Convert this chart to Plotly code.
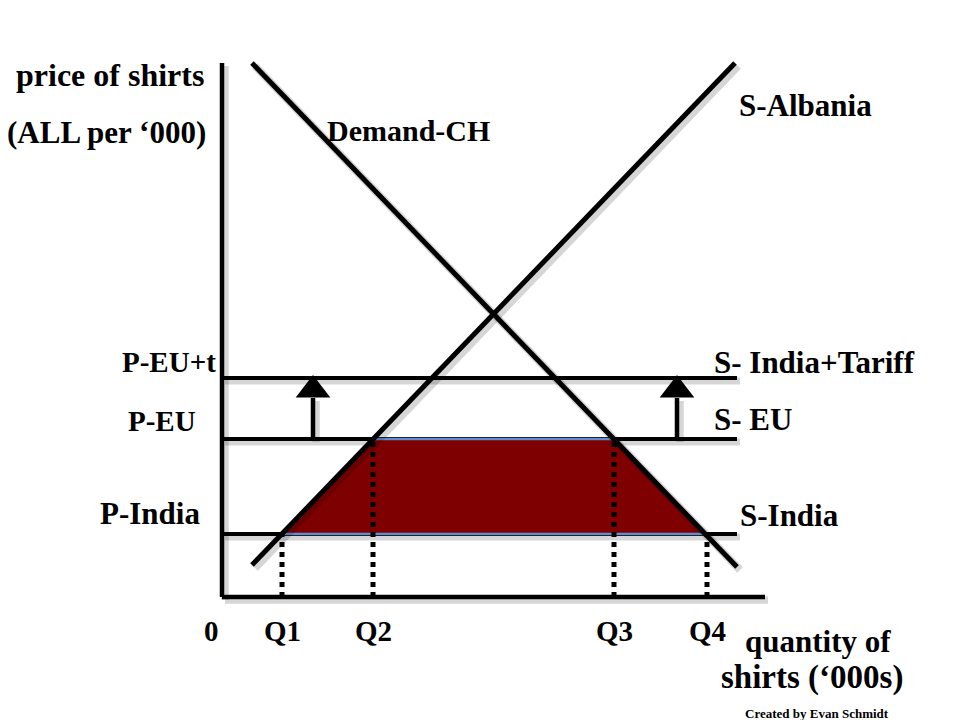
import plotly.graph_objects as go

# ---- data (quantity / price units, origin at the axes corner) ----
q_ticks = [0, 60, 151, 392, 485]
q_labels = ["0", "Q1", "Q2", "Q3", "Q4"]
p_india = 63
p_eu = 158
p_eu_t = 219
p_labels = ["P-India", "P-EU", "P-EU+t"]
demand_q = [30, 515]
demand_p = [534, 30]
supply_q = [30, 513]
supply_p = [32, 534]
h_line_q = [0, 515]
axis_q_max = 543
axis_p_max = 534
arrow_q = [91, 455]
trade_q = [60, 151, 392, 485, 60]
trade_p = [63, 158, 158, 63, 63]

FONT = "Liberation Serif"
fig = go.Figure()

def line(xs, ys, width, color="black", dash="solid", shadow=True):
    if shadow:
        fig.add_trace(go.Scatter(x=[v + 3 for v in xs], y=[v - 3 for v in ys], mode="lines",
                                 line=dict(color="rgba(0,0,0,0.16)", width=width + 3, dash=dash),
                                 hoverinfo="skip", showlegend=False))
    fig.add_trace(go.Scatter(x=xs, y=ys, mode="lines",
                             line=dict(color=color, width=width, dash=dash),
                             hoverinfo="skip", showlegend=False))

# axes
line([0, 0], [0, axis_p_max], 4.5)
line([0, axis_q_max], [0, 0], 4.5)

# horizontal supply lines
for p in [p_india, p_eu, p_eu_t]:
    line(h_line_q, [p, p], 4)

# shaded trade area
fig.add_trace(go.Scatter(x=trade_q, y=trade_p, mode="lines", fill="toself",
                         fillcolor="#7f0000", line=dict(color="#5f8fd0", width=2.5),
                         hoverinfo="skip", showlegend=False))

# demand and supply
line(demand_q, demand_p, 5)
line(supply_q, supply_p, 5)

# dotted drop lines
for q, p in zip(trade_q[:4], trade_p[:4]):
    line([q, q], [0, p], 5, dash="dot", shadow=False)

# arrows
for q in arrow_q:
    line([q, q], [p_eu, p_eu_t - 20], 4.5)
    fig.add_trace(go.Scatter(x=[q], y=[p_eu_t - 12], mode="markers",
                             marker=dict(symbol="triangle-up", size=30, color="black"),
                             hoverinfo="skip", showlegend=False))

def text(x, y, s, size=30, xanchor="center"):
    fig.add_annotation(x=x, y=y, text="<b>" + s + "</b>", showarrow=False,
                       xanchor=xanchor, yanchor="middle",
                       font=dict(family=FONT, size=size, color="black"))

text(-112, 522, "price of shirts", size=32)
text(-116, 465, "(ALL per ‘000)", size=31)
text(186, 467, "Demand-CH")
text(583, 492, "S-Albania", size=31)
text(-4, p_eu_t + 16, p_labels[2], xanchor="right", size=29)
text(-24, p_eu + 18, p_labels[1], xanchor="right", size=29)
text(-20, p_india + 21, p_labels[0], xanchor="right", size=31)
text(490, p_eu_t + 16, "S- India+Tariff", xanchor="left", size=31)
text(490, p_eu + 20, "S- EU", xanchor="left", size=31)
text(516, p_india + 19, "S-India", xanchor="left", size=31)
for q, lab in zip(q_ticks, q_labels):
    text(q - (11 if q == 0 else 0), -34, lab, size=29)
text(596, -44, "quantity of", size=31)
text(590, -80, "shirts (‘000s)", size=33)
text(595, -116, "Created by Evan Schmidt", size=13)

# page body has an 8px offset; ranges chosen so that the axes corner lands at (222, 597)
fig.update_layout(
    width=960, height=720,
    margin=dict(l=0, r=0, t=0, b=0),
    paper_bgcolor="white", plot_bgcolor="white",
    xaxis=dict(range=[-214, 746], visible=False, fixedrange=True),
    yaxis=dict(range=[-131, 589], visible=False, fixedrange=True),
    showlegend=False,
)
fig.write_html("out.html")
